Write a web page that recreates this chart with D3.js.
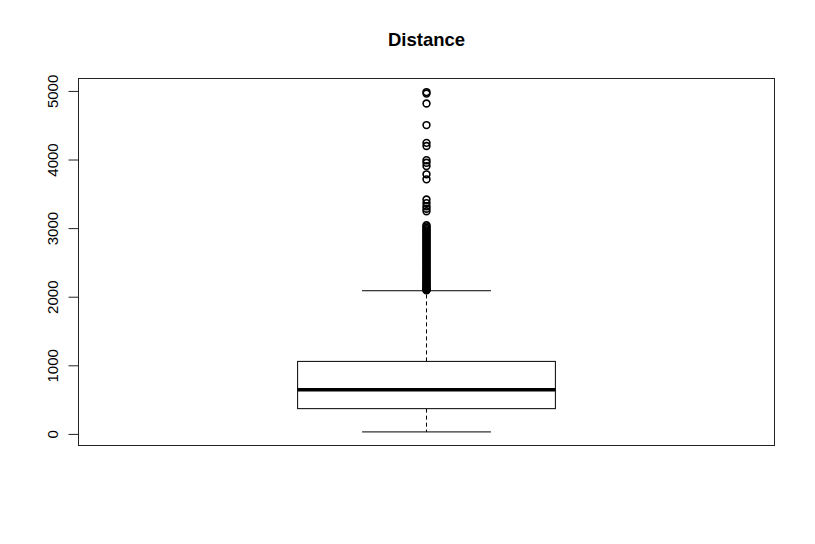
<!DOCTYPE html>
<html>
<head>
<meta charset="utf-8">
<script src="https://cdn.jsdelivr.net/npm/d3@7"></script>
<style>
  body { margin: 0; background: #fff; }
  svg { display: block; }
</style>
</head>
<body>
<svg id="chart"></svg>
<script>
// datos del boxplot
const title = "Distance";
const yTicks = [0, 1000, 2000, 3000, 4000, 5000];
const stats = { lower: 29, q1: 368, median: 645, q3: 1057, upper: 2087 };
const outliers = [
  2092, 2099, 2106, 2115, 2125, 2139, 2153, 2168, 2182, 2197, 2215, 2232,
  2248, 2267, 2285, 2302, 2320, 2338, 2356, 2375, 2391, 2410, 2428, 2446,
  2465, 2483, 2501, 2520, 2538, 2556, 2575, 2594, 2612, 2631, 2650, 2668,
  2687, 2705, 2724, 2742, 2761, 2780, 2798, 2817, 2836, 2854, 2873, 2891,
  2910, 2928, 2947, 2966, 2985, 3004, 3025, 3043,
  3246, 3283, 3317, 3365, 3417,
  3711, 3784, 3904, 3952, 3990,
  4197, 4243, 4502, 4817, 4962, 4983
];

const width = 815;
const height = 544;
const plot = { left: 78.5, right: 774.5, top: 78.5, bottom: 445.5 };

const svg = d3.select("#chart")
    .attr("width", width)
    .attr("height", height);

// rango extendido un 4% como en R
const ymin = d3.min([stats.lower, ...outliers]);
const ymax = d3.max([stats.upper, ...outliers]);
const pad = (ymax - ymin) * 0.04;

const y = d3.scaleLinear()
    .domain([ymin - pad, ymax + pad])
    .range([plot.bottom, plot.top]);

const x = d3.scaleLinear()
    .domain([0.46, 1.54])
    .range([plot.left, plot.right]);

const cx = x(1);

// título
svg.append("text")
    .attr("x", cx)
    .attr("y", 46)
    .attr("text-anchor", "middle")
    .style("font-family", "Liberation Sans, Arial, sans-serif")
    .style("font-weight", "bold")
    .style("font-size", "18.5px")
    .text(title);

// marco
svg.append("rect")
    .attr("x", plot.left)
    .attr("y", plot.top)
    .attr("width", plot.right - plot.left)
    .attr("height", plot.bottom - plot.top)
    .attr("fill", "none")
    .attr("stroke", "#222")
    .attr("stroke-width", 1);

// eje vertical
const axis = svg.append("g")
    .attr("transform", `translate(${plot.left},0)`)
    .call(d3.axisLeft(y).tickValues(yTicks).tickSize(10).tickSizeOuter(0).tickFormat(d3.format("d")));

axis.select(".domain")
    .attr("d", `M0,${Math.round(y(0)) + 0.5}V${Math.round(y(5000)) + 0.5}`)
    .attr("stroke", "#222");
axis.selectAll(".tick line").attr("stroke", "#222");
axis.selectAll(".tick text")
    .attr("x", null)
    .attr("dy", null)
    .attr("text-anchor", "middle")
    .attr("transform", "translate(-21,0) rotate(-90)")
    .style("font-family", "Liberation Sans, Arial, sans-serif")
    .style("font-size", "15px")
    .attr("fill", "#000");

const g = svg.append("g");

// bigotes (línea discontinua)
g.append("line")
    .attr("x1", cx).attr("x2", cx)
    .attr("y1", y(stats.q3)).attr("y2", y(stats.upper))
    .attr("stroke", "#000")
    .attr("stroke-dasharray", "4,3");
g.append("line")
    .attr("x1", cx).attr("x2", cx)
    .attr("y1", y(stats.q1)).attr("y2", y(stats.lower))
    .attr("stroke", "#000")
    .attr("stroke-dasharray", "4,3");

// topes de los bigotes
[stats.lower, stats.upper].forEach(v => {
  g.append("line")
      .attr("x1", x(0.9)).attr("x2", x(1.1))
      .attr("y1", y(v)).attr("y2", y(v))
      .attr("stroke", "#000");
});

// caja
g.append("rect")
    .attr("x", x(0.8))
    .attr("y", y(stats.q3))
    .attr("width", x(1.2) - x(0.8))
    .attr("height", y(stats.q1) - y(stats.q3))
    .attr("fill", "#fff")
    .attr("stroke", "#000");

// mediana
g.append("line")
    .attr("x1", x(0.8)).attr("x2", x(1.2))
    .attr("y1", y(stats.median)).attr("y2", y(stats.median))
    .attr("stroke", "#000")
    .attr("stroke-width", 3.5);

// valores atípicos
g.selectAll("circle")
    .data(outliers)
    .join("circle")
    .attr("cx", cx)
    .attr("cy", d => y(d))
    .attr("r", 3.4)
    .attr("fill", "none")
    .attr("stroke", "#000")
    .attr("stroke-width", 1.6);
</script>
</body>
</html>
